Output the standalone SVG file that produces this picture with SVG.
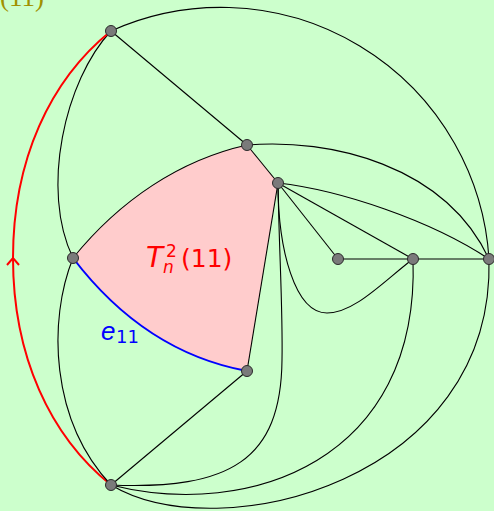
<svg xmlns="http://www.w3.org/2000/svg" width="494" height="511" viewBox="0 0 494 511">
<defs>
<style>
.e{fill:none;stroke:#000;stroke-width:1.1}
.red{fill:none;stroke:#ff0000;stroke-width:2}
.blue{fill:none;stroke:#0000ff;stroke-width:2}
.n{fill:#7a7a7a;stroke:#2a2a2a;stroke-width:1}
.lbl{font-family:"DejaVu Sans","Liberation Sans",sans-serif}
</style>
<marker id="arr" markerUnits="userSpaceOnUse" orient="auto" markerWidth="20" markerHeight="20" refX="0" refY="0" viewBox="-10 -10 20 20" overflow="visible">
<path d="M-7,-6 L0,0 L-7,6" fill="none" stroke="#ff0000" stroke-width="2"/>
</marker>
</defs>
<rect x="0" y="0" width="494" height="511" fill="#ccffcc"/>
<text x="0" y="5.5" font-family="'Liberation Serif',serif" font-size="27" fill="#a09100">(11)</text>
<path id="region" d="M73,258 C120,200 180,160 247,145 L278,183 L247,371 C160,355 105,300 73,258 Z" fill="#ffcccc" stroke="none"/>
<g id="connectors">
<path class="e" d="M111,31 A268.5,268.5 0 0 1 489,259"/>
<path class="e" d="M111,31 L247,145"/>
<path class="e" d="M111,31 C65,80 40,190 73,258"/>
<path class="red" d="M111,485 C50,436 13,356 13,258 C13,160 50,80 111,31" marker-mid="url(#arr)"/>
<path class="e" d="M73,258 C120,200 180,160 247,145"/>
<path class="blue" d="M73,258 C105,300 160,355 247,371"/>
<path class="e" d="M73,258 C48,320 50,420 111,485"/>
<path class="e" d="M247,145 L278,183"/>
<path class="e" d="M247,145 C330,138 445,165 489,259"/>
<path class="e" d="M278,183 C340,190 430,220 489,259"/>
<path class="e" d="M278,183 L338,259"/>
<path class="e" d="M278,183 L413,259"/>
<path class="e" d="M338,259 L413,259 L489,259"/>
<path class="e" d="M278,183 C278,250 295,313 327,313 C355,313 385,280 413,259"/>
<path class="e" d="M278,183 C279,250 283,310 282,360 C281,460 230,490 111,485"/>
<path class="e" d="M278,183 L247,371"/>
<path class="e" d="M247,371 L111,485"/>
<path class="e" d="M111,485 C250,520 420,460 413,259"/>
<path class="e" d="M111,485 C220,550 495,480 489,259"/>
</g>
<g id="A"><circle class="n" cx="111" cy="31" r="5.5"/></g>
<g id="B"><circle class="n" cx="247" cy="145" r="5.5"/></g>
<g id="C"><circle class="n" cx="278" cy="183" r="5.5"/></g>
<g id="D"><circle class="n" cx="73" cy="258" r="5.5"/></g>
<g id="E"><circle class="n" cx="338" cy="259" r="5.5"/></g>
<g id="F"><circle class="n" cx="413" cy="259" r="5.5"/></g>
<g id="G"><circle class="n" cx="489" cy="259" r="5.5"/></g>
<g id="H"><circle class="n" cx="247" cy="371" r="5.5"/></g>
<g id="I"><circle class="n" cx="111" cy="485" r="5.5"/></g>
<g id="label-T">
<text class="lbl" fill="#ff0000" font-size="28"><tspan x="146" y="267" font-style="italic">T</tspan><tspan x="166" y="257" font-size="17">2</tspan><tspan x="163" y="273" font-size="17" font-style="italic">n</tspan><tspan x="181" y="267" font-size="25">(11)</tspan></text>
</g>
<g id="label-e">
<text class="lbl" fill="#0000ff" font-size="26"><tspan x="101" y="340" font-style="italic" font-family="'Liberation Sans',sans-serif">e</tspan><tspan x="116" y="343" font-size="18">11</tspan></text>
</g>
</svg>
